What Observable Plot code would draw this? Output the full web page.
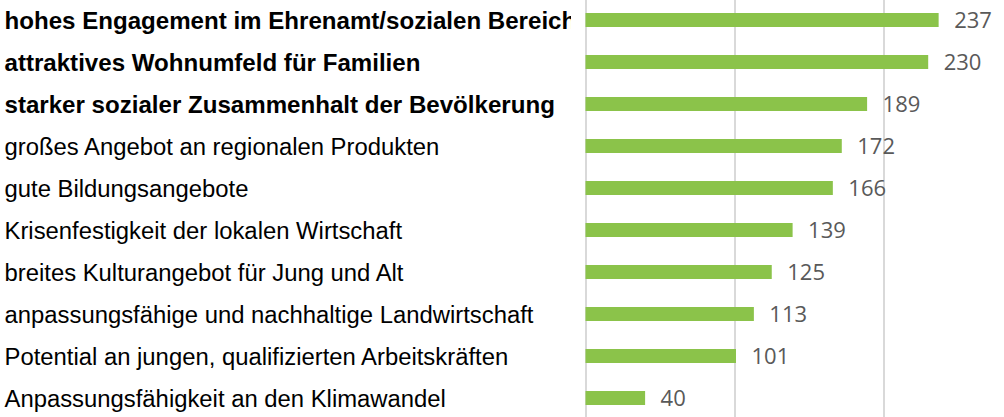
<!DOCTYPE html>
<html>
<head>
<meta charset="utf-8">
<script src="https://cdn.jsdelivr.net/npm/d3@7"></script>
<script src="https://cdn.jsdelivr.net/npm/@observablehq/plot@0.6"></script>
<style>
  html, body { margin: 0; padding: 0; background: #fff; }
  #chart { width: 1004px; height: 417px; overflow: hidden; }
</style>
</head>
<body>
<div id="chart"></div>
<script>
const categories = [
  "hohes Engagement im Ehrenamt/sozialen Bereich",
  "attraktives Wohnumfeld für Familien",
  "starker sozialer Zusammenhalt der Bevölkerung",
  "großes Angebot an regionalen Produkten",
  "gute Bildungsangebote",
  "Krisenfestigkeit der lokalen Wirtschaft",
  "breites Kulturangebot für Jung und Alt",
  "anpassungsfähige und nachhaltige Landwirtschaft",
  "Potential an jungen, qualifizierten Arbeitskräften",
  "Anpassungsfähigkeit an den Klimawandel"
];
const values = [237, 230, 189, 172, 166, 139, 125, 113, 101, 40];
const boldCategories = categories.slice(0, 3);
const normalCategories = categories.slice(3);
const gridTicks = [0, 100, 200, 300];

const data = categories.map((c, i) => ({label: c, value: values[i]}));

const labelFont = "'Liberation Sans', Arial, sans-serif";
const axisCommon = {
  anchor: "left", tickSize: 0, tickPadding: 0, textAnchor: "start",
  dx: -581, dy: 1, fontFamily: labelFont, fill: "#000", label: null
};

const chart = Plot.plot({
  width: 1004,
  height: 417,
  marginLeft: 585,
  marginRight: 0,
  marginTop: 0,
  marginBottom: 0,
  style: {background: "#fff", color: "#000", overflow: "visible"},
  x: {domain: [0, 300], range: [585.5, 1032.5], axis: null},
  y: {domain: categories, range: [-1, 419], paddingInner: 0.66, paddingOuter: 0.33, axis: null},
  marks: [
    Plot.ruleX(gridTicks, {stroke: "#d9d9d9", strokeWidth: 2}),
    Plot.barX(data, {x: "value", y: "label", fill: "#8bc34a"}),
    Plot.text(data, {x: "value", y: "label", text: d => String(d.value), textAnchor: "start", dx: 15,
      fill: "#595959", fontSize: 22, fontFamily: "'Open Sans', sans-serif"}),
    Plot.axisY({...axisCommon, ticks: boldCategories, fontWeight: "bold", fontSize: 24.1}),
    Plot.axisY({...axisCommon, ticks: normalCategories, fontSize: 23.85})
  ]
});

document.getElementById("chart").appendChild(chart);

// clip the category labels like the original (label area truncated before the axis)
const svg = d3.select(chart);
svg.insert("defs", ":first-child")
  .append("clipPath").attr("id", "labelclip")
  .append("rect").attr("x", 0).attr("y", 0).attr("width", 571).attr("height", 417);
const wrap = svg.append("g").attr("clip-path", "url(#labelclip)");
svg.selectAll('g[aria-label="y-axis tick label"]').each(function() {
  wrap.node().appendChild(this);
});
</script>
</body>
</html>
